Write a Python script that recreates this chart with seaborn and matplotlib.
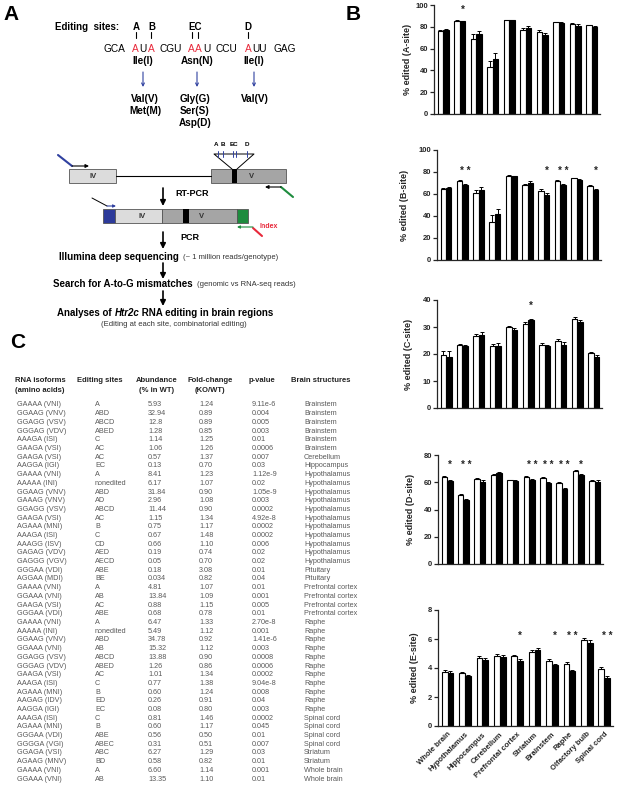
"""Htr2c RNA editing figure: workflow (A), site editing bars (B), isoform table (C)"""
import numpy as np
import pandas as pd
import matplotlib
matplotlib.use('Agg')
import matplotlib.pyplot as plt
from matplotlib.patches import Rectangle
import seaborn as sns

W, H = 617, 791

# ---- panel B data ----
regions = ['Whole brain', 'Hypothalamus', 'Hippocampus', 'Cerebellum', 'Prefrontal cortex',
           'Striatum', 'Brainstem', 'Raphe', 'Olfactory bulb', 'Spinal cord']

a_wt = [76.5, 85.5, 69, 43, 86, 77.5, 75, 84, 83, 81.5]
a_ko = [77.5, 85, 73, 50, 86, 79, 72.5, 83.5, 81, 80]
a_wt_err = [0.5, 0.5, 4, 6, 0.5, 1, 2, 0.5, 0.5, 0.5]
a_ko_err = [0.5, 0.5, 3, 6, 0.5, 2, 2, 0.5, 1.5, 1]
a_stars = ['', '*', '', '', '', '', '', '', '', '']

b_wt = [65, 72, 61, 35, 76.5, 68.5, 63, 72, 74.5, 67.5]
b_ko = [65.5, 68.5, 63.5, 41.5, 76, 70, 59, 68.5, 72.5, 64]
b_wt_err = [0.5, 0.5, 3, 6, 0.5, 1, 1.5, 0.5, 0.5, 0.5]
b_ko_err = [0.5, 0.5, 3, 5, 0.5, 2, 1.5, 0.5, 1.5, 1]
b_stars = ['', '**', '', '', '', '', '*', '**', '', '*']

c_wt = [19.5, 23.5, 26.5, 23, 30, 31, 23.5, 25, 33, 20.5]
c_ko = [19, 23, 27, 23, 29, 32.5, 23, 23.5, 32, 19]
c_wt_err = [1.5, 0.3, 1, 0.8, 0.3, 0.8, 0.5, 0.5, 0.8, 0.4]
c_ko_err = [2, 0.5, 1, 1, 0.8, 0.5, 0.3, 0.8, 0.7, 0.8]
c_stars = ['', '', '', '', '', '*', '', '', '', '']

d_wt = [63.5, 50.5, 62.5, 65.5, 61.5, 64, 63, 59.5, 68, 61]
d_ko = [61, 47, 60.5, 66.5, 61, 62, 59.5, 55, 65.5, 60.5]
d_wt_err = [0.8, 0.6, 0.6, 0.6, 0.5, 0.6, 0.6, 0.6, 0.8, 1]
d_ko_err = [0.8, 0.6, 0.8, 0.8, 0.5, 0.6, 0.6, 0.8, 0.8, 0.8]
d_stars = ['*', '**', '', '', '', '**', '**', '**', '*', '']

e_wt = [3.75, 3.65, 4.7, 4.85, 4.8, 5.1, 4.5, 4.3, 5.9, 3.9]
e_ko = [3.65, 3.45, 4.55, 4.75, 4.5, 5.25, 4.2, 3.8, 5.75, 3.3]
e_wt_err = [0.1, 0.08, 0.12, 0.15, 0.08, 0.12, 0.1, 0.1, 0.15, 0.15]
e_ko_err = [0.12, 0.1, 0.15, 0.15, 0.12, 0.1, 0.08, 0.08, 0.2, 0.12]
e_stars = ['', '', '', '', '*', '', '*', '**', '', '**']

# ---- panel C table ----
header1 = ['RNA isoforms', 'Editing sites', 'Abundance', 'Fold-change', 'p-value', 'Brain structures']
header2 = ['(amino acids)', '', '(% in WT)', '(KO/WT)', '', '']
isoforms = ['GAAAA (VNI)', 'GGAAG (VNV)', 'GGAGG (VSV)', 'GGGAG (VDV)', 'AAAGA (ISI)', 'GAAGA (VSI)',
            'GAAGA (VSI)', 'AAGGA (IGI)', 'GAAAA (VNI)', 'AAAAA (INI)', 'GGAAG (VNV)', 'GAAAG (VNV)',
            'GGAGG (VSV)', 'GAAGA (VSI)', 'AGAAA (MNI)', 'AAAGA (ISI)', 'AAAGG (ISV)', 'GAGAG (VDV)',
            'GAGGG (VGV)', 'GGGAA (VDI)', 'AGGAA (MDI)', 'GAAAA (VNI)', 'GGAAA (VNI)', 'GAAGA (VSI)',
            'GGGAA (VDI)', 'GAAAA (VNI)', 'AAAAA (INI)', 'GGAAG (VNV)', 'GGAAA (VNI)', 'GGAGG (VSV)',
            'GGGAG (VDV)', 'GAAGA (VSI)', 'AAAGA (ISI)', 'AGAAA (MNI)', 'AAGAG (IDV)', 'AAGGA (IGI)',
            'AAAGA (ISI)', 'AGAAA (MNI)', 'GGGAA (VDI)', 'GGGGA (VGI)', 'GGAGA (VSI)', 'AGAAG (MNV)',
            'GAAAA (VNI)', 'GGAAA (VNI)']
edit_sites = ['A', 'ABD', 'ABCD', 'ABED', 'C', 'AC', 'AC', 'EC', 'A', 'nonedited', 'ABD', 'AD',
              'ABCD', 'AC', 'B', 'C', 'CD', 'AED', 'AECD', 'ABE', 'BE', 'A', 'AB', 'AC', 'ABE', 'A',
              'nonedited', 'ABD', 'AB', 'ABCD', 'ABED', 'AC', 'C', 'B', 'ED', 'EC', 'C', 'B', 'ABE',
              'ABEC', 'ABC', 'BD', 'A', 'AB']
abundance = ['5.93', '32.94', '12.8', '1.28', '1.14', '1.06', '0.57', '0.13', '8.41', '6.17', '31.84',
             '2.96', '11.44', '1.15', '0.75', '0.67', '0.66', '0.19', '0.05', '0.18', '0.034', '4.81',
             '13.84', '0.88', '0.68', '6.47', '5.49', '34.78', '15.32', '13.88', '1.26', '1.01', '0.77',
             '0.60', '0.26', '0.08', '0.81', '0.60', '0.56', '0.31', '6.27', '0.58', '6.60', '13.35']
fold_change = ['1.24', '0.89', '0.89', '0.85', '1.25', '1.26', '1.37', '0.70', '1.23', '1.07', '0.90',
               '1.08', '0.90', '1.34', '1.17', '1.48', '1.10', '0.74', '0.70', '3.08', '0.82', '1.07',
               '1.09', '1.15', '0.78', '1.33', '1.12', '0.92', '1.12', '0.90', '0.86', '1.34', '1.38',
               '1.24', '0.91', '0.80', '1.46', '1.17', '0.50', '0.51', '1.29', '0.82', '1.14', '1.10']
p_values = ['9.11e-6', '0.004', '0.005', '0.003', '0.01', '0.0006', '0.007', '0.03', '1.12e-9', '0.02',
            '1.05e-9', '0.003', '0.0002', '4.92e-8', '0.0002', '0.0002', '0.006', '0.02', '0.02', '0.01',
            '0.04', '0.01', '0.001', '0.005', '0.01', '2.70e-8', '0.001', '1.41e-6', '0.003', '0.0008',
            '0.0006', '0.0002', '9.04e-8', '0.008', '0.04', '0.003', '0.0002', '0.045', '0.01', '0.007',
            '0.03', '0.01', '0.001', '0.01']
structures = ['Brainstem'] * 6 + ['Cerebellum', 'Hippocampus'] + ['Hypothalamus'] * 11 + \
             ['Pituitary'] * 2 + ['Prefrontal cortex'] * 4 + ['Raphe'] * 11 + ['Spinal cord'] * 4 + \
             ['Striatum'] * 2 + ['Whole brain'] * 2

sns.set_style('ticks')
plt.rcParams['font.family'] = ['Liberation Sans', 'DejaVu Sans']

fig = plt.figure(figsize=(W / 100, H / 100), dpi=100)
renderer = fig.canvas.get_renderer()

# overlay axes in pixel coordinates for panels A and C
ax0 = fig.add_axes([0, 0, 1, 1])
ax0.set_xlim(0, W)
ax0.set_ylim(H, 0)
ax0.axis('off')


def txt(x, y, s, size=7, weight='normal', color='black', ha='center', style='normal'):
    return ax0.text(x, y, s, fontsize=size, fontweight=weight, color=color, ha=ha, va='center',
                    fontstyle=style)


def txt_run(x, y, parts, size=7, weight='bold'):
    # left-aligned pieces of text placed one after the other
    for s, style in parts:
        t = txt(x, y, s, size=size, weight=weight, ha='left', style=style)
        x += t.get_window_extent(renderer).width


def arrow(x0, y0, x1, y1, color='black', lw=1.2, style='-|>', scale=8):
    ax0.annotate('', xy=(x1, y1), xytext=(x0, y0),
                 arrowprops=dict(arrowstyle=style, color=color, lw=lw, mutation_scale=scale,
                                 shrinkA=0, shrinkB=0))


# panel letters
txt(11, 15, 'A', size=15, weight='bold')
txt(353, 15, 'B', size=15, weight='bold')
txt(18, 342, 'C', size=15, weight='bold')

# ---- panel A: editing sites in the codons ----
txt(55, 27, 'Editing  sites:', weight='bold', ha='left')
for x, s in [(136, 'A'), (152, 'B'), (195, 'EC'), (248, 'D')]:
    txt(x, 27, s, weight='bold')
for x in [136, 151, 192, 198, 248]:
    ax0.plot([x, x], [32, 38], color='black', lw=0.8)

red = '#e8283a'
seq_letters = [(104, 'GCA', 'black'), (132, 'A', red), (139.6, 'U', 'black'), (147.6, 'A', red),
               (159, 'CGU', 'black'), (188, 'A', red), (195.4, 'A', red), (202.8, 'U', 'black'),
               (216, 'CCU', 'black'), (245, 'A', red), (252.4, 'UU', 'black'), (273, 'GAG', 'black')]
for x, s, c in seq_letters:
    txt(x, 49, s, size=7.3, color=c, ha='left')

blue = '#3041a0'
for x, aa in [(143, 'Ile(I)'), (197, 'Asn(N)'), (254, 'Ile(I)')]:
    txt(x, 61, aa, size=7.2, weight='bold')
    arrow(x, 72, x, 87, color=blue, lw=0.8, style='->', scale=5)
for x, lines in [(145, ['Val(V)', 'Met(M)']), (195, ['Gly(G)', 'Ser(S)', 'Asp(D)']),
                 (255, ['Val(V)'])]:
    for k, s in enumerate(lines):
        txt(x, 99 + 12 * k, s, size=7.2, weight='bold')

# gene structure
ax0.add_patch(Rectangle((69, 169), 47, 14, fc='#dcdcdc', ec='#555555', lw=0.6))
ax0.plot([116, 211], [176, 176], color='black', lw=0.8)
ax0.add_patch(Rectangle((211, 169), 75, 14, fc='#a5a5a5', ec='#555555', lw=0.6))
ax0.add_patch(Rectangle((232, 169), 5, 14, fc='black', ec='none'))
txt(93, 176, 'IV', size=5.5, weight='bold', color='#333333')
txt(252, 176, 'V', size=5.5, weight='bold', color='#333333')
ax0.plot([232, 214, 254, 237], [169, 154, 154, 169], color='black', lw=0.7)
for x in [218, 223, 233, 236, 247]:
    ax0.plot([x, x], [151, 157], color=blue, lw=0.7)
for x, s in [(216, 'A'), (223, 'B'), (234, 'EC'), (247, 'D')]:
    txt(x, 145, s, size=4.5, weight='bold')
ax0.plot([58, 72], [155, 166], color=blue, lw=1.5)
arrow(72, 166, 89, 166, lw=0.8, scale=5)
ax0.plot([281, 293], [187, 197], color='#1e8c3e', lw=1.5)
arrow(281, 187, 265, 187, lw=0.8, scale=5)

arrow(163, 188, 163, 206)
txt(175, 193, 'RT-PCR', size=6.5, weight='bold', ha='left')

# amplicon
ax0.add_patch(Rectangle((103, 209), 12, 14, fc='#2d3a9a', ec='#555555', lw=0.6))
ax0.add_patch(Rectangle((115, 209), 47, 14, fc='#dcdcdc', ec='#555555', lw=0.6))
ax0.add_patch(Rectangle((162, 209), 75, 14, fc='#a5a5a5', ec='#555555', lw=0.6))
ax0.add_patch(Rectangle((183, 209), 6, 14, fc='black', ec='none'))
ax0.add_patch(Rectangle((237, 209), 11, 14, fc='#1e8c3e', ec='#555555', lw=0.6))
txt(142, 216, 'IV', size=5.5, weight='bold', color='#333333')
txt(202, 216, 'V', size=5.5, weight='bold', color='#333333')
ax0.plot([92, 107], [198, 206], color='black', lw=0.7)
arrow(107, 206, 116, 206, color=blue, lw=0.8, scale=4)
arrow(253, 227, 237, 227, color='#1e8c3e', lw=0.8, scale=4)
ax0.plot([253, 262], [228, 236], color=red, lw=1.5)
txt(259, 226, 'Index', size=5, weight='bold', color=red, ha='left')

arrow(163, 232, 163, 249)
txt(180, 238, 'PCR', size=6.5, weight='bold', ha='left')

txt(59, 257, 'Illumina deep sequencing', weight='bold', ha='left')
txt(183, 257.5, '(~ 1 million reads/genotype)', size=5.5, color='#333333', ha='left')
arrow(163, 263, 163, 279)
txt(53, 284, 'Search for A-to-G mismatches', weight='bold', ha='left')
txt(197, 284.5, '(genomic vs RNA-seq reads)', size=5.5, color='#333333', ha='left')
arrow(163, 291, 163, 306)
txt_run(57, 313, [('Analyses of ', 'normal'), ('Htr2c', 'italic'),
                  (' RNA editing in brain regions', 'normal')])
txt(174, 325, '(Editing at each site, combinatorial editing)', size=5.5, color='#333333')

# ---- panel C: table ----
head_x = [40, 100, 157, 210, 262, 321]
for x, h1, h2 in zip(head_x, header1, header2):
    txt(x, 381, h1, size=5.5, weight='bold', color='#222222')
    if h2:
        txt(x, 391, h2, size=5.5, weight='bold', color='#222222')
col_x = [17, 95, 148, 199, 252, 304]
columns = [isoforms, edit_sites, abundance, fold_change, p_values, structures]
for r in range(len(isoforms)):
    y = 405 + r * 8.7
    for x, col in zip(col_x, columns):
        txt(x, y, col[r], size=5.2, color='#5a5a5a', ha='left')

# ---- panel B: bar charts ----
panels = [
    (a_wt, a_ko, a_wt_err, a_ko_err, a_stars, 95.5, '% edited (A-site)', 100, 20, (434, 114, 600, 5), 412),
    (b_wt, b_ko, b_wt_err, b_ko_err, b_stars, 81, '% edited (B-site)', 100, 20, (437, 260, 601, 150), 409),
    (c_wt, c_ko, c_wt_err, c_ko_err, c_stars, 37.8, '% edited (C-site)', 40, 10, (437, 408, 602, 300), 413),
    (d_wt, d_ko, d_wt_err, d_ko_err, d_stars, 72.7, '% edited (D-site)', 80, 20, (438, 564, 603, 455), 415),
    (e_wt, e_ko, e_wt_err, e_ko_err, e_stars, 6.2, '% edited (E-site)', 8, 2, (438, 726, 613, 610), 419),
]

for k, (wt, ko, wt_err, ko_err, stars, star_y, ylabel, ymax, ystep, box, lab_x) in enumerate(panels):
    left, bottom, right, top = box
    ax = fig.add_axes([left / W, 1 - bottom / H, (right - left) / W, (bottom - top) / H])
    df = pd.DataFrame({'region': regions * 2,
                       'genotype': ['WT'] * len(regions) + ['KO'] * len(regions),
                       'value': wt + ko})
    sns.barplot(data=df, x='region', y='value', hue='genotype', order=regions,
                hue_order=['WT', 'KO'], palette={'WT': 'white', 'KO': 'black'}, saturation=1,
                edgecolor='black', linewidth=0.8, width=0.67, errorbar=None, legend=False, ax=ax)
    for cont, err in zip(ax.containers, [wt_err, ko_err]):
        xs = [b.get_x() + b.get_width() / 2 for b in cont]
        hs = [b.get_height() for b in cont]
        ax.errorbar(xs, hs, yerr=[np.zeros(len(err)), err], fmt='none', ecolor='black',
                    elinewidth=0.7, capsize=1.2, capthick=0.7)
    for i, s in enumerate(stars):
        if s:
            ax.text(i + 0.17, star_y, ' '.join(s), ha='center', va='center', fontsize=7,
                    fontweight='bold')
    ax.set_xlim(-0.55, 9.5)
    ax.set_ylim(0, ymax)
    ax.set_yticks(np.arange(0, ymax + ystep / 2, ystep))
    ax.set_xlabel('')
    ax.set_ylabel(ylabel, fontsize=6.5, fontweight='bold')
    ax.yaxis.set_label_coords((lab_x - left) / (right - left), 0.5)
    sns.despine(ax=ax)
    for sp in ['left', 'bottom']:
        ax.spines[sp].set_linewidth(0.9)
    ax.tick_params(axis='y', length=3, width=0.9, labelsize=5.5, pad=1)
    ax.tick_params(axis='x', length=0, labelsize=5.5)
    for lab in ax.get_yticklabels():
        lab.set_fontweight('bold')
    if k < len(panels) - 1:
        ax.set_xticklabels([])
    else:
        ax.set_xticks(range(len(regions)))
        ax.set_xticklabels(regions, rotation=45, ha='right', rotation_mode='anchor',
                           fontweight='bold')

fig.savefig('out.png', dpi=100)
